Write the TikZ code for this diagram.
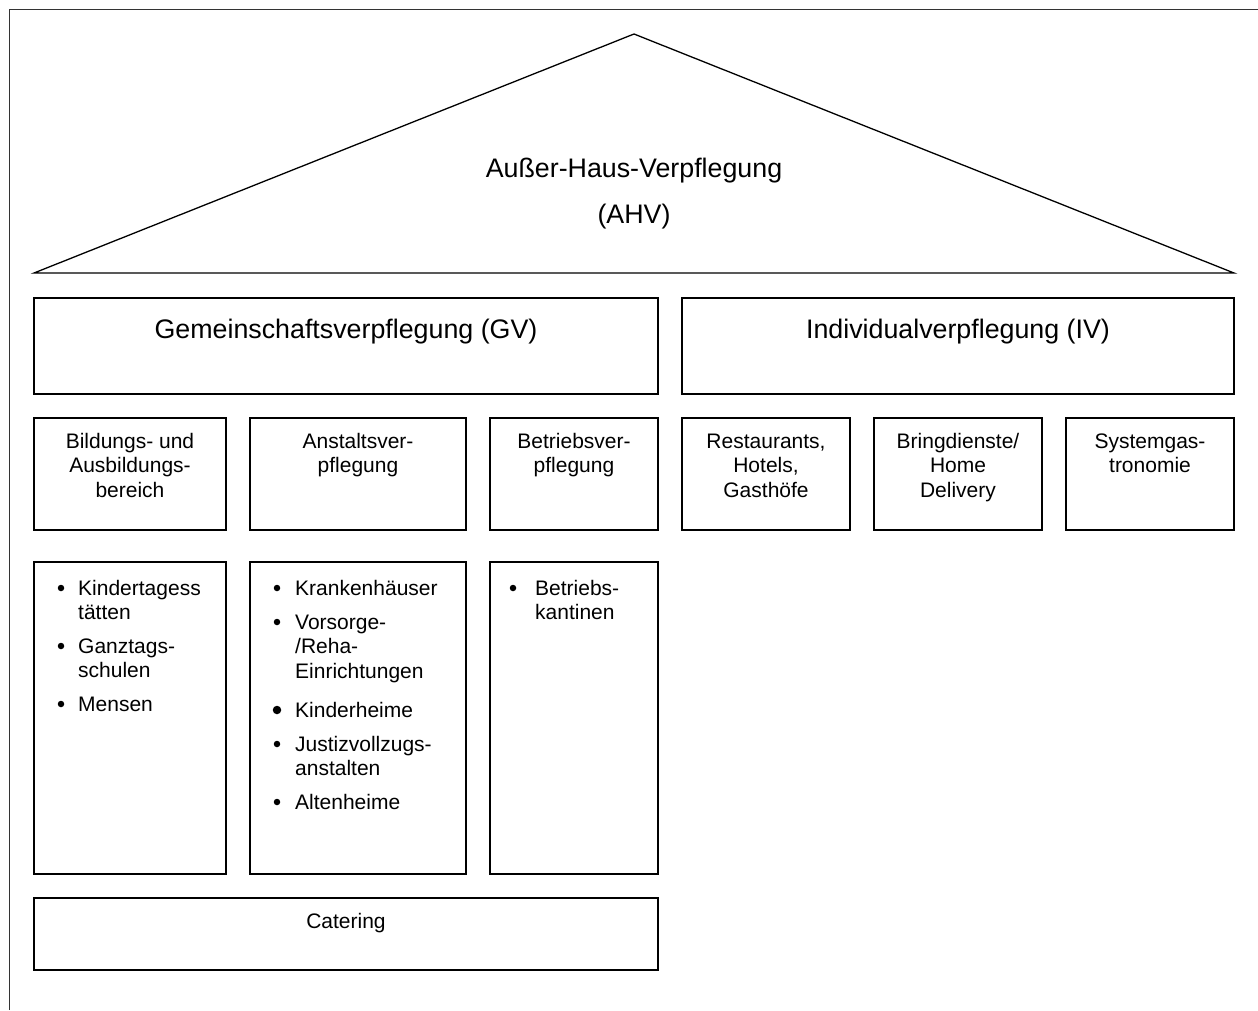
\documentclass[tikz,border=0pt]{standalone}
\usepackage{fontspec}
\setmainfont{Liberation Sans}
\begin{document}
\begin{tikzpicture}[x=1pt,y=-1pt,
  box/.style={draw, line width=1.5pt, inner sep=0pt},
  bigtxt/.style={font=\fontsize{26.8}{46}\selectfont, inner sep=0pt, align=center},
  hdr/.style={font=\fontsize{21}{24.5}\selectfont, inner sep=0pt, align=center, anchor=north},
  itemtxt/.style={font=\fontsize{21}{24.5}\selectfont, inner sep=0pt, align=left, anchor=north west},
  dot/.style={circle, fill=black, inner sep=0pt, minimum size=6.5pt},
  framel/.style={draw=black!80, line width=1.8pt}]
\useasboundingbox (0,0) rectangle (1258,1010);
% outer frame (top and left only)
\coordinate (fbl) at (9.5,1010);
\coordinate (ftl) at (9.5,9.5);
\coordinate (ftr) at (1258,9.5);
\draw[framel] (fbl) -- (ftl) -- (ftr);
% roof
\coordinate (apex) at (634,34);
\coordinate (rbl) at (34,273);
\coordinate (rbr) at (1234,273);
\draw[line width=1.3pt, line join=miter] (rbl) -- (apex) -- (rbr) -- cycle;
\node[bigtxt, anchor=north] (ahv) at (634,144.8) {\strut Außer-Haus-Verpflegung\\(AHV)};
% main boxes
\node[box, minimum width=624pt, minimum height=96pt] (gv) at (346,346) {};
\node[box, minimum width=552pt, minimum height=96pt] (iv) at (958,346) {};
\node[bigtxt, anchor=base] (gvt) at (346,338) {Gemeinschaftsverpflegung (GV)};
\node[bigtxt, anchor=base] (ivt) at (958,338) {Individualverpflegung (IV)};
% header boxes
\node[box, minimum width=192pt, minimum height=112pt] (b1) at (130,474) {};
\node[box, minimum width=216pt, minimum height=112pt] (b2) at (358,474) {};
\node[box, minimum width=168pt, minimum height=112pt] (b3) at (574,474) {};
\node[box, minimum width=168pt, minimum height=112pt] (b4) at (766,474) {};
\node[box, minimum width=168pt, minimum height=112pt] (b5) at (958,474) {};
\node[box, minimum width=168pt, minimum height=112pt] (b6) at (1150,474) {};
\node[hdr] (t1) at (130,430.85) {\strut Bildungs- und\\Ausbildungs-\\bereich};
\node[hdr] (t2) at (358,430.85) {\strut Anstaltsver-\\pflegung};
\node[hdr] (t3) at (574,430.85) {\strut Betriebsver-\\pflegung};
\node[hdr] (t4) at (766,430.85) {\strut Restaurants,\\Hotels,\\Gasthöfe};
\node[hdr] (t5) at (958,430.85) {\strut Bringdienste/\\Home\\Delivery};
\node[hdr] (t6) at (1150,430.85) {\strut Systemgas-\\tronomie};
% list boxes
\node[box, minimum width=192pt, minimum height=312pt] (l1) at (130,718) {};
\node[box, minimum width=216pt, minimum height=312pt] (l2) at (358,718) {};
\node[box, minimum width=168pt, minimum height=312pt] (l3) at (574,718) {};
% list 1
\node[dot] (d11) at (61,588) {};
\node[itemtxt] (i11) at (78,577.85) {\strut Kindertagess\\tätten};
\node[dot] (d12) at (61,646) {};
\node[itemtxt] (i12) at (78,635.85) {\strut Ganztags-\\schulen};
\node[dot] (d13) at (61,704) {};
\node[itemtxt] (i13) at (78,693.85) {\strut Mensen};
% list 2
\node[dot] (d21) at (277,588) {};
\node[itemtxt] (i21) at (295,577.85) {\strut Krankenhäuser};
\node[dot] (d22) at (277,622) {};
\node[itemtxt] (i22) at (295,611.85) {\strut Vorsorge-\\/Reha-\\Einrichtungen};
\node[dot, minimum size=8.5pt] (d23) at (277,710) {};
\node[itemtxt] (i23) at (295,699.85) {\strut Kinderheime};
\node[dot] (d24) at (277,744) {};
\node[itemtxt] (i24) at (295,733.85) {\strut Justizvollzugs-\\anstalten};
\node[dot] (d25) at (277,802) {};
\node[itemtxt] (i25) at (295,791.85) {\strut Altenheime};
% list 3
\node[dot] (d31) at (513,588) {};
\node[itemtxt] (i31) at (535,577.85) {\strut Betriebs-\\kantinen};
% catering
\node[box, minimum width=624pt, minimum height=72pt] (cat) at (346,934) {};
\node[font=\fontsize{21}{24.5}\selectfont, inner sep=0pt, anchor=base] (catt) at (346,928) {Catering};
\end{tikzpicture}
\end{document}
